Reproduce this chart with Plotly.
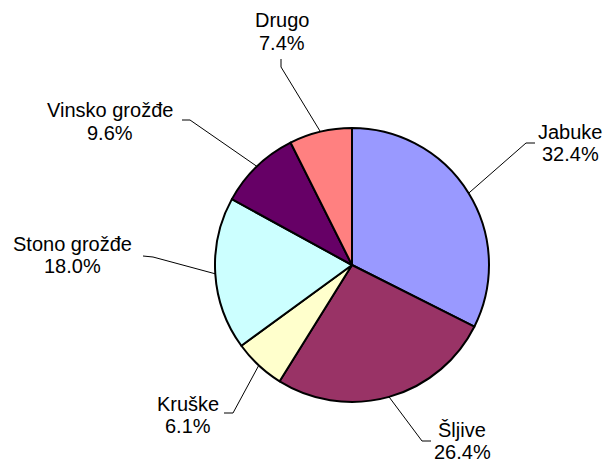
import math
import plotly.graph_objects as go

labels = ["Jabuke", "Šljive", "Kruške", "Stono grožđe", "Vinsko grožđe", "Drugo"]
values = [32.4, 26.4, 6.1, 18.0, 9.6, 7.4]
colors = ["#9999FF", "#993366", "#FFFFCC", "#CCFFFF", "#660066", "#FF8080"]

W, H = 611, 462
cx, cy, r = 352, 265, 137
FONT = dict(family="Liberation Sans, Arial, sans-serif", size=20, color="black")

# label placement (pixels): centre x, name-line y, percent-line y
label_pos = [(570, 132, 154), (462, 430, 452), (188, 404, 426),
             (72, 244, 266), (110, 110, 133), (282, 20, 43)]
# leader line: outer end point and elbow (pixels)
leader = [((535, 143), (526, 143)), ((431, 441), (422, 441)), ((224, 413), (233, 413)),
          ((143, 256), (153, 257)), ((182, 120), (190, 120)), ((281, 59), (281, 67))]

fig = go.Figure(go.Pie(
    labels=labels, values=values, sort=False, direction="clockwise", rotation=0,
    marker=dict(colors=colors, line=dict(color="black", width=2)),
    textinfo="none", hoverinfo="label+percent", showlegend=False,
    domain=dict(x=[(cx - r) / W, (cx + r) / W], y=[(H - cy - r) / H, (H - cy + r) / H]),
))

def px(x, y):
    return x / W, 1 - y / H

total = sum(values)
cum = 0.0
annotations, shapes = [], []
for lab, v, (lx, ny, py), (end, elbow) in zip(labels, values, label_pos, leader):
    mid = (cum + v / 2) / total * 2 * math.pi
    cum += v
    ex = cx + r * math.sin(mid)
    ey = cy - r * math.cos(mid)
    pts = [px(*end), px(*elbow), px(ex, ey)]
    path = "M {} {} L {} {} L {} {}".format(*[c for p in pts for c in p])
    shapes.append(dict(type="path", path=path, xref="paper", yref="paper",
                       line=dict(color="black", width=1)))
    for txt, yy in ((lab, ny), (f"{v:.1f}%", py)):
        x0, y0 = px(lx, yy)
        annotations.append(dict(x=x0, y=y0, xref="paper", yref="paper", text=txt,
                                showarrow=False, xanchor="center", yanchor="middle",
                                font=FONT))

fig.update_layout(
    width=W, height=H, margin=dict(l=0, r=0, t=0, b=0),
    paper_bgcolor="white", plot_bgcolor="white",
    annotations=annotations, shapes=shapes,
)
fig.write_html("out.html", config={"displayModeBar": False},
               post_script="document.body.style.margin='0px';document.body.style.padding='0px';")
